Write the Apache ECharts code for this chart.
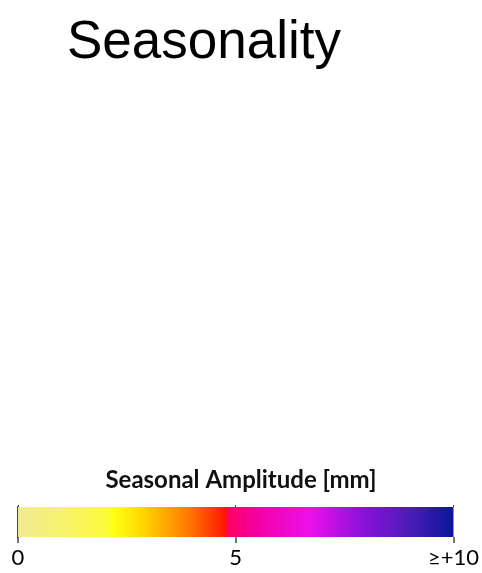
<!DOCTYPE html>
<html>
<head>
<meta charset="utf-8">
<script src="https://cdn.jsdelivr.net/npm/echarts@6/dist/echarts.min.js"></script>
<style>
  html, body { margin: 0; padding: 0; background: #fff; }
  #chart { width: 482px; height: 573px; }
</style>
</head>
<body>
<div id="chart"></div>
<script>
// Colour scale for seasonal amplitude (mm), as value / colour stops
const scaleMin = 0;
const scaleMax = 10;
const stopValues = [0, 1.0, 2.0, 2.2, 2.8, 3.4, 4.0, 4.78, 4.8, 5.5, 6.7, 8.0, 9.0, 10];
const stopColors = ['#f2eb96', '#f7f26c', '#fcfa3c', '#ffff14', '#ffdc00', '#ffa800', '#ff7000', '#ff1400',
                    '#ff0062', '#f400a4', '#ec10ec', '#8412d6', '#4c1cb8', '#08169a'];
const tickValues = [0, 5, 10];
const tickLabels = ['0', '5', '≥+10'];
const barValue = [scaleMax];

const chart = echarts.init(document.getElementById('chart'));

const gradient = new echarts.graphic.LinearGradient(0, 0, 1, 0,
  stopValues.map((v, i) => ({ offset: (v - scaleMin) / (scaleMax - scaleMin), color: stopColors[i] })));

const edgeColor = '#4a4a44';

chart.setOption({
  backgroundColor: '#ffffff',
  animation: false,
  title: [
    {
      text: 'Seasonality',
      left: 62,
      top: 12,
      textStyle: { fontFamily: 'Liberation Sans', fontSize: 53, fontWeight: 'normal', color: '#000' }
    },
    {
      text: 'Seasonal Amplitude [mm]',
      left: 'center',
      top: 463,
      textStyle: { fontFamily: 'Lato', fontSize: 24, fontWeight: 'bold', color: '#111' }
    }
  ],
  grid: { left: 18, right: 26, top: 507, height: 30 },
  xAxis: [
    {
      type: 'value',
      min: scaleMin,
      max: scaleMax,
      interval: 5,
      position: 'bottom',
      axisLine: { show: false },
      splitLine: { show: false },
      axisTick: { show: true, length: 6, lineStyle: { color: edgeColor, width: 1.5 } },
      axisLabel: {
        margin: 10,
        fontFamily: 'Lato',
        fontSize: 22,
        color: '#000',
        formatter: v => tickLabels[tickValues.indexOf(v)]
      }
    },
    {
      type: 'value',
      min: scaleMin,
      max: scaleMax,
      interval: 5,
      position: 'top',
      axisLine: { show: false },
      splitLine: { show: false },
      axisTick: { show: true, length: 2, lineStyle: { color: edgeColor, width: 1 } },
      axisLabel: { show: false }
    }
  ],
  yAxis: [
    {
      type: 'category',
      data: [''],
      position: 'left',
      axisLine: { show: true, lineStyle: { color: edgeColor, width: 2 } },
      axisTick: { show: false },
      axisLabel: { show: false }
    },
    {
      type: 'category',
      data: [''],
      position: 'right',
      axisLine: { show: true, lineStyle: { color: edgeColor, width: 1.5 } },
      axisTick: { show: false },
      axisLabel: { show: false }
    }
  ],
  series: [
    {
      type: 'bar',
      xAxisIndex: 0,
      yAxisIndex: 0,
      data: barValue,
      barWidth: 30,
      silent: true,
      itemStyle: { color: gradient },
      z: 1
    }
  ]
});
</script>
</body>
</html>
